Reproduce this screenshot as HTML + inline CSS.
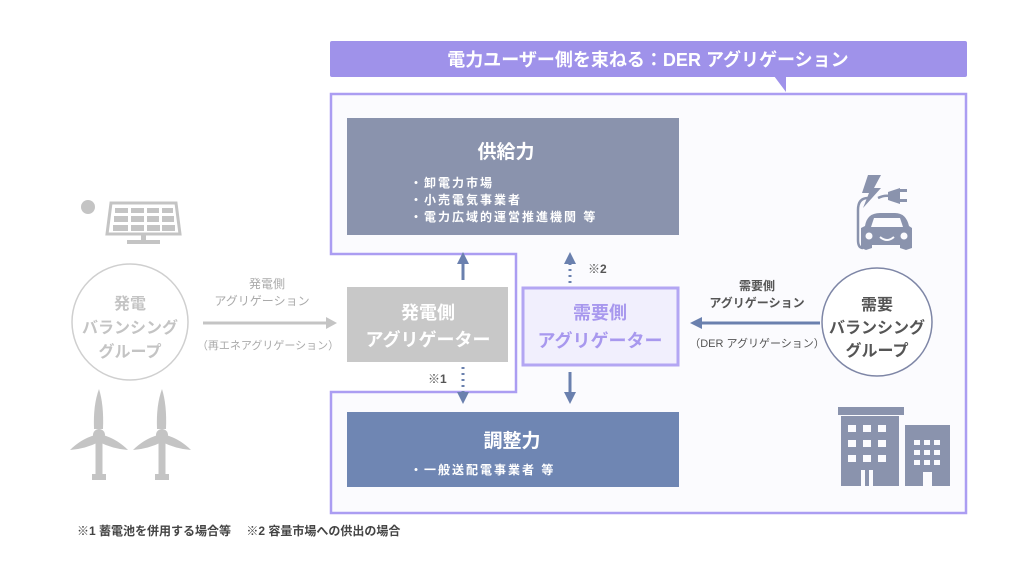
<!DOCTYPE html>
<html><head><meta charset="utf-8"><style>
html,body{margin:0;padding:0;background:#fff;}
svg{display:block;font-family:"Liberation Sans","Noto Sans CJK JP",sans-serif;}
</style></head><body>
<svg width="1024" height="586" viewBox="0 0 1024 586" xmlns="http://www.w3.org/2000/svg">
<defs>
<marker id="ab" markerWidth="4" markerHeight="4" refX="2" refY="2" orient="auto" markerUnits="strokeWidth"><path d="M0,0L4,2L0,4z" fill="#6a80ae"/></marker>
</defs>
<rect x="330" y="41" width="637" height="36" rx="2" fill="#9f92ea"/>
<path d="M774,76 L786,76 L786,92 Z" fill="#9f92ea"/>
<text x="648" y="66" text-anchor="middle" font-size="18" font-weight="bold" fill="#fff">電力ユーザー側を束ねる：DER アグリゲーション</text>
<path d="M331,94 L966,94 L966,513 L331,513 L331,392 L516,392 L516,254 L331,254 Z" fill="#fbfbfe" stroke="#ab9df2" stroke-width="2.5"/>
<rect x="347" y="118" width="332" height="117" fill="#8a93ad"/>
<text x="506" y="158" text-anchor="middle" font-size="19" font-weight="bold" fill="#fff">供給力</text>
<g font-size="12" font-weight="bold" fill="#fff" letter-spacing="2">
<text x="410" y="187">・卸電力市場</text>
<text x="410" y="204">・小売電気事業者</text>
<text x="410" y="221">・電力広域的運営推進機関 等</text>
</g>
<rect x="347" y="412" width="332" height="75" fill="#6f86b3"/>
<text x="512" y="447" text-anchor="middle" font-size="19" font-weight="bold" fill="#fff">調整力</text>
<text x="410" y="474" font-size="12" font-weight="bold" fill="#fff" letter-spacing="2">・一般送配電事業者 等</text>
<rect x="347" y="287" width="161" height="75" fill="#c8c8c8"/>
<text x="428" y="319" text-anchor="middle" font-size="18" font-weight="bold" fill="#fff">発電側</text>
<text x="428" y="346" text-anchor="middle" font-size="18" font-weight="bold" fill="#fff">アグリゲーター</text>
<rect x="523" y="288" width="155" height="77" fill="#f1effd" stroke="#b3a6f3" stroke-width="3"/>
<text x="600" y="319" text-anchor="middle" font-size="18" font-weight="bold" fill="#a898ee">需要側</text>
<text x="600" y="347" text-anchor="middle" font-size="18" font-weight="bold" fill="#a898ee">アグリゲーター</text>
<line x1="463" y1="280" x2="463" y2="258" stroke="#6a80ae" stroke-width="3" marker-end="url(#ab)"/>
<line x1="463" y1="367" x2="463" y2="398" stroke="#6a80ae" stroke-width="3" stroke-dasharray="2,4" marker-end="url(#ab)"/>
<line x1="570" y1="283" x2="570" y2="258" stroke="#6a80ae" stroke-width="3" stroke-dasharray="2,4" marker-end="url(#ab)"/>
<line x1="570" y1="372" x2="570" y2="398" stroke="#6a80ae" stroke-width="3" marker-end="url(#ab)"/>
<text x="588" y="273" font-size="12" font-weight="bold" fill="#555">※2</text>
<text x="428" y="383" font-size="12" font-weight="bold" fill="#555">※1</text>
<line x1="820" y1="323" x2="696" y2="323" stroke="#6a80ae" stroke-width="3" marker-end="url(#ab)"/>
<text x="757" y="290" text-anchor="middle" font-size="12" font-weight="bold" fill="#555">需要側</text>
<text x="757" y="307" text-anchor="middle" font-size="12" font-weight="bold" fill="#555">アグリゲーション</text>
<text x="757" y="347" text-anchor="middle" font-size="11" fill="#555">（DER アグリゲーション）</text>
<ellipse cx="877" cy="322" rx="55" ry="54" fill="#fff" stroke="#7e86a6" stroke-width="1.5"/>
<text x="877" y="310" text-anchor="middle" font-size="16" font-weight="bold" fill="#555">需要</text>
<text x="877" y="333" text-anchor="middle" font-size="16" font-weight="bold" fill="#555">バランシング</text>
<text x="877" y="356" text-anchor="middle" font-size="16" font-weight="bold" fill="#555">グループ</text>
<circle cx="130" cy="322" r="58" fill="#fff" stroke="#cfcfcf" stroke-width="1.5"/>
<text x="130" y="309" text-anchor="middle" font-size="16" font-weight="bold" fill="#c4c4c4">発電</text>
<text x="130" y="333" text-anchor="middle" font-size="16" font-weight="bold" fill="#c4c4c4">バランシング</text>
<text x="130" y="357" text-anchor="middle" font-size="16" font-weight="bold" fill="#c4c4c4">グループ</text>
<line x1="203" y1="323" x2="328" y2="323" stroke="#c4c4c4" stroke-width="3"/>
<path d="M326,317 L337,323 L326,329 Z" fill="#c4c4c4"/>
<text x="267" y="288" text-anchor="middle" font-size="12" fill="#aaa">発電側</text>
<text x="262" y="305" text-anchor="middle" font-size="12" fill="#aaa">アグリゲーション</text>
<text x="268" y="349" text-anchor="middle" font-size="11" fill="#aaa">（再エネアグリゲーション）</text>
<circle cx="88" cy="207" r="7" fill="#c4c4c4"/>
<path d="M111,203 L176,203 L180,234 L107,234 Z" fill="none" stroke="#c4c4c4" stroke-width="3"/>
<g fill="#c4c4c4">
<rect x="115" y="208" width="13" height="5"/><rect x="131" y="208" width="13" height="5"/><rect x="147" y="208" width="12" height="5"/><rect x="162" y="208" width="11" height="5"/>
<rect x="114" y="216" width="14" height="6"/><rect x="131" y="216" width="13" height="6"/><rect x="147" y="216" width="12" height="6"/><rect x="162" y="216" width="12" height="6"/>
<rect x="113" y="225" width="15" height="6"/><rect x="131" y="225" width="13" height="6"/><rect x="147" y="225" width="13" height="6"/><rect x="162" y="225" width="13" height="6"/>
<rect x="141" y="234" width="5" height="7"/><rect x="127" y="240" width="33" height="4"/>
</g>
<g fill="#c4c4c4">
<g transform="translate(99,435)"><path d="M-5,-6 Q-6,-30 0,-46 Q5,-30 4,-6 Z"/><path d="M-4,0 Q-18,4 -29,15 Q-14,14 0,7 Z"/><path d="M4,0 Q18,4 29,15 Q14,14 0,7 Z"/><circle r="6"/><rect x="-3.5" y="5" width="7" height="36"/><rect x="-7" y="39" width="14" height="6"/></g>
<g transform="translate(162,435)"><path d="M-5,-6 Q-6,-30 0,-46 Q5,-30 4,-6 Z"/><path d="M-4,0 Q-18,4 -29,15 Q-14,14 0,7 Z"/><path d="M4,0 Q18,4 29,15 Q14,14 0,7 Z"/><circle r="6"/><rect x="-3.5" y="5" width="7" height="36"/><rect x="-7" y="39" width="14" height="6"/></g>
</g>
<g fill="#8a93ad" stroke="none">
<path d="M868,175 L881,175 L874,188 L881,188 L863,208 L869,193 L862,193 Z"/>
<path d="M888,192 L900,188 L900,204 L888,200 Z"/><rect x="899" y="189" width="8" height="3"/><rect x="899" y="199" width="8" height="3"/>
<path d="M865,226 Q867,213 880,213 L895,213 Q906,213 909,226 L912,228 L912,248 L906,250 L900,248 L900,245 L872,245 L872,248 L866,250 L861,248 L861,228Z"/>
</g>
<path d="M868,198 Q858,198 858,210 L858,240 Q858,248 863,248" fill="none" stroke="#8a93ad" stroke-width="2.5"/>
<path d="M878,198 Q884,195 890,196" fill="none" stroke="#8a93ad" stroke-width="2.5"/>
<path d="M871,227 L874,218 L900,218 L903,227Z" fill="#fbfbfe"/>
<circle cx="869" cy="236" r="3.5" fill="#fbfbfe"/><circle cx="904" cy="236" r="3.5" fill="#fbfbfe"/>
<path d="M880,237 Q887,243 894,237" fill="none" stroke="#fbfbfe" stroke-width="2"/>
<g fill="#8a93ad">
<rect x="838" y="407" width="66" height="8"/>
<rect x="841" y="416" width="58" height="70"/>
<rect x="905" y="425" width="45" height="61"/>
</g>
<g fill="#fbfbfe">
<rect x="848" y="425" width="8" height="7"/><rect x="863" y="425" width="8" height="7"/><rect x="878" y="425" width="8" height="7"/>
<rect x="848" y="440" width="8" height="7"/><rect x="863" y="440" width="8" height="7"/><rect x="878" y="440" width="8" height="7"/>
<rect x="848" y="455" width="8" height="7"/><rect x="863" y="455" width="8" height="7"/><rect x="878" y="455" width="8" height="7"/>
<rect x="861" y="470" width="4" height="16"/><rect x="869" y="470" width="4" height="16"/>
<rect x="914" y="440" width="6" height="5"/><rect x="924" y="440" width="6" height="5"/><rect x="934" y="440" width="6" height="5"/>
<rect x="914" y="450" width="6" height="5"/><rect x="924" y="450" width="6" height="5"/><rect x="934" y="450" width="6" height="5"/>
<rect x="914" y="460" width="6" height="5"/><rect x="924" y="460" width="6" height="5"/><rect x="934" y="460" width="6" height="5"/>
<rect x="923" y="472" width="9" height="14"/>
</g>
<text x="77" y="535" font-size="12" font-weight="bold" fill="#444">※1 蓄電池を併用する場合等　 ※2 容量市場への供出の場合</text>
</svg>
</body></html>
